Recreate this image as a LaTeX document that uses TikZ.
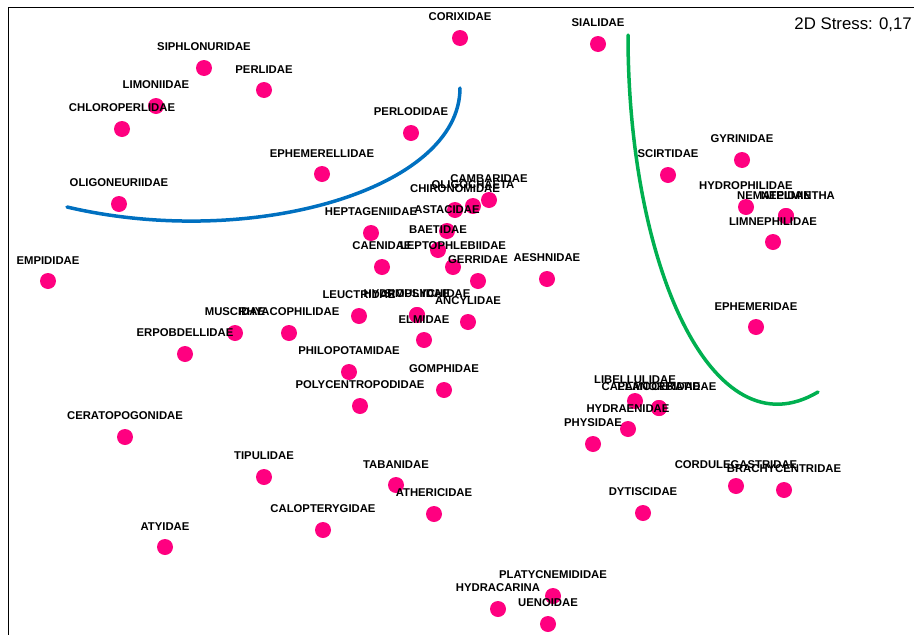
\documentclass[tikz,border=0pt]{standalone}
\usepackage{fontspec}
\setmainfont{Liberation Sans}
\usetikzlibrary{positioning}
\definecolor{taxonpink}{RGB}{255,0,128}
\definecolor{groupblue}{RGB}{0,112,192}
\definecolor{groupgreen}{RGB}{0,176,80}
\tikzset{%
  dot/.style    = {circle, fill=taxonpink, inner sep=0pt, outer sep=0pt,%
                   minimum size=16pt},%
  taxon/.style  = {font=\bfseries\fontsize{11.3}{13}\selectfont,%
                   inner sep=0pt, outer sep=0pt, label distance=9pt},%
  frame/.style  = {draw=black, line width=1pt},%
  group/.style  = {line width=3.5pt, line cap=round}%
}
\begin{document}
\begin{tikzpicture}[x=1pt, y=-1pt]
  \useasboundingbox (0,0) rectangle (914,635);
  \draw[frame] (914,7) -- (8,7) -- (8,635);
  \node[anchor=base east, inner sep=0pt, font=\fontsize{16.8}{19}\selectfont]
    (stress) at (912,29) {2D Stress: 0,17};
  % groups
  \draw[group, groupblue] (67,207) .. controls (250,250) and (460,190) .. (460,88);
  \draw[group, groupgreen] (628,35) .. controls (628,265) and (712,455) .. (818,392);
  % taxa
  \node[dot, label={[taxon]above:CORIXIDAE}] (corixidae) at (460,38) {};
  \node[dot, label={[taxon]above:SIALIDAE}] (sialidae) at (598,44) {};
  \node[dot, label={[taxon]above:SIPHLONURIDAE}] (siphlonuridae) at (204,68) {};
  \node[dot, label={[taxon]above:PERLIDAE}] (perlidae) at (264,90) {};
  \node[dot, label={[taxon]above:LIMONIIDAE}] (limoniidae) at (156,106) {};
  \node[dot, label={[taxon]above:CHLOROPERLIDAE}] (chloroperlidae) at (122,129) {};
  \node[dot, label={[taxon]above:PERLODIDAE}] (perlodidae) at (411,133) {};
  \node[dot, label={[taxon]above:EPHEMERELLIDAE}] (ephemerellidae) at (322,174) {};
  \node[dot, label={[taxon]above:OLIGONEURIIDAE}] (oligoneuriidae) at (119,204) {};
  \node[dot, label={[taxon]above:GYRINIDAE}] (gyrinidae) at (742,160) {};
  \node[dot, label={[taxon]above:SCIRTIDAE}] (scirtidae) at (668,175) {};
  \node[dot, label={[taxon]above:HYDROPHILIDAE}] (hydrophilidae) at (746,207) {};
  \node[dot, label={[taxon]above:NEMATELMINTHA}] (nematelmintha) at (786,216) {};
  \node[dot, label={[taxon]above:NEPIDAE}] (nepidae) at (786,216) {};
  \node[dot, label={[taxon]above:LIMNEPHILIDAE}] (limnephilidae) at (773,242) {};
  \node[dot, label={[taxon]above:EPHEMERIDAE}] (ephemeridae) at (756,327) {};
  \node[dot, label={[taxon]above:CAMBARIDAE}] (cambaridae) at (489,200) {};
  \node[dot, label={[taxon]above:OLIGOCHAETA}] (oligochaeta) at (473,206) {};
  \node[dot, label={[taxon]above:CHIRONOMIDAE}] (chironomidae) at (455,210) {};
  \node[dot, label={[taxon]above:HEPTAGENIIDAE}] (heptageniidae) at (371,233) {};
  \node[dot, label={[taxon]above:ASTACIDAE}] (astacidae) at (447,231) {};
  \node[dot, label={[taxon]above:BAETIDAE}] (baetidae) at (438,250) {};
  \node[dot, label={[taxon]above:CAENIDAE}] (caenidae) at (382,267) {};
  \node[dot, label={[taxon]above:LEPTOPHLEBIIDAE}] (leptophlebiidae) at (453,267) {};
  \node[dot, label={[taxon]above:GERRIDAE}] (gerridae) at (478,281) {};
  \node[dot, label={[taxon]above:AESHNIDAE}] (aeshnidae) at (547,279) {};
  \node[dot, label={[taxon]above:EMPIDIDAE}] (empididae) at (48,281) {};
  \node[dot, label={[taxon]above:LEUCTRIDAE}] (leuctridae) at (359,316) {};
  \node[dot, label={[taxon]above:HYDROPSYCHIDAE}] (hydropsychidae) at (417,315) {};
  \node[dot, label={[taxon]above:SIMULIIDAE}] (simuliidae) at (417,315) {};
  \node[dot, label={[taxon]above:ANCYLIDAE}] (ancylidae) at (468,322) {};
  \node[dot, label={[taxon]above:ELMIDAE}] (elmidae) at (424,340) {};
  \node[dot, label={[taxon]above:MUSCIDAE}] (muscidae) at (235,333) {};
  \node[dot, label={[taxon]above:RHYACOPHILIDAE}] (rhyacophilidae) at (289,333) {};
  \node[dot, label={[taxon]above:ERPOBDELLIDAE}] (erpobdellidae) at (185,354) {};
  \node[dot, label={[taxon]above:PHILOPOTAMIDAE}] (philopotamidae) at (349,372) {};
  \node[dot, label={[taxon]above:GOMPHIDAE}] (gomphidae) at (444,390) {};
  \node[dot, label={[taxon]above:POLYCENTROPODIDAE}] (polycentropodidae) at (360,406) {};
  \node[dot, label={[taxon]above:CERATOPOGONIDAE}] (ceratopogonidae) at (125,437) {};
  \node[dot, label={[taxon]above:TIPULIDAE}] (tipulidae) at (264,477) {};
  \node[dot, label={[taxon]above:TABANIDAE}] (tabanidae) at (396,485) {};
  \node[dot, label={[taxon]above:ATHERICIDAE}] (athericidae) at (434,514) {};
  \node[dot, label={[taxon]above:CALOPTERYGIDAE}] (calopterygidae) at (323,530) {};
  \node[dot, label={[taxon]above:ATYIDAE}] (atyidae) at (165,547) {};
  \node[dot, label={[taxon]above:LIBELLULIDAE}] (libellulidae) at (635,401) {};
  \node[dot, label={[taxon]above:CALAMOCERATIDAE}] (calamoceratidae) at (659,408) {};
  \node[dot, label={[taxon]above:PLANORBIDAE}] (planorbidae) at (659,408) {};
  \node[dot, label={[taxon]above:HYDRAENIDAE}] (hydraenidae) at (628,429) {};
  \node[dot, label={[taxon]above:PHYSIDAE}] (physidae) at (593,444) {};
  \node[dot, label={[taxon]above:DYTISCIDAE}] (dytiscidae) at (643,513) {};
  \node[dot, label={[taxon]above:CORDULEGASTRIDAE}] (cordulegastridae) at (736,486) {};
  \node[dot, label={[taxon]above:BRACHYCENTRIDAE}] (brachycentridae) at (784,490) {};
  \node[dot, label={[taxon]above:PLATYCNEMIDIDAE}] (platycnemididae) at (553,596) {};
  \node[dot, label={[taxon]above:HYDRACARINA}] (hydracarina) at (498,609) {};
  \node[dot, label={[taxon]above:UENOIDAE}] (uenoidae) at (548,624) {};
\end{tikzpicture}
\end{document}
